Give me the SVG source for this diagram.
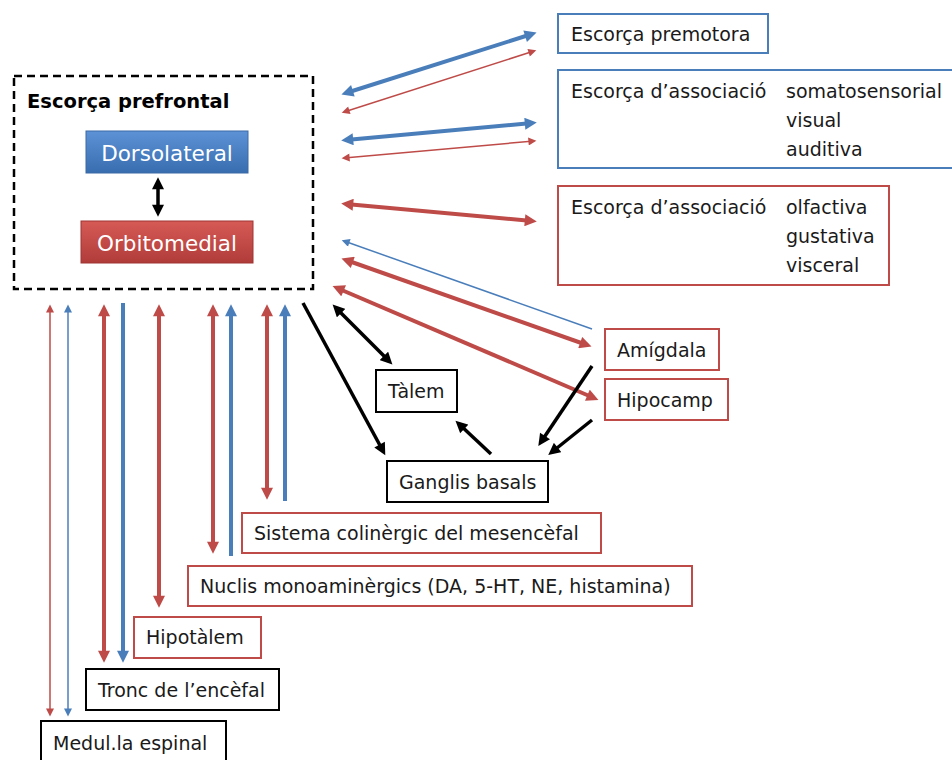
<svg xmlns="http://www.w3.org/2000/svg" width="952" height="760" viewBox="0 0 952 760">
<style>
text{font-family:"DejaVu Sans","Liberation Sans",Arial,sans-serif;font-size:19px;fill:#1a1a1a}
.bx{fill:#fff;stroke-width:2}
.b{stroke:#4a7ebb}.r{stroke:#be4b48}.k{stroke:#000}
.ln{fill:none;stroke-linecap:butt}
.tk{stroke-width:4}.tn{stroke-width:1.5}.bk{stroke-width:3.5}
</style>
<defs>
<linearGradient id="gb" x1="0" y1="0" x2="0" y2="1"><stop offset="0" stop-color="#5d93d6"/><stop offset="1" stop-color="#386db0"/></linearGradient>
<linearGradient id="gr" x1="0" y1="0" x2="0" y2="1"><stop offset="0" stop-color="#d65a56"/><stop offset="1" stop-color="#b03c39"/></linearGradient>
<marker id="rB" viewBox="0 0 10 10" refX="6" refY="5" markerUnits="userSpaceOnUse" markerWidth="14" markerHeight="12" orient="auto-start-reverse"><path d="M0,0L10,5L0,10z" fill="#be4b48"/></marker>
<marker id="bB" viewBox="0 0 10 10" refX="6" refY="5" markerUnits="userSpaceOnUse" markerWidth="14" markerHeight="12" orient="auto-start-reverse"><path d="M0,0L10,5L0,10z" fill="#4a7ebb"/></marker>
<marker id="kB" viewBox="0 0 10 10" refX="6" refY="5" markerUnits="userSpaceOnUse" markerWidth="13" markerHeight="12" orient="auto-start-reverse"><path d="M0,0L10,5L0,10z" fill="#000"/></marker>
<marker id="rS" viewBox="0 0 10 10" refX="7" refY="5" markerUnits="userSpaceOnUse" markerWidth="10" markerHeight="8" orient="auto-start-reverse"><path d="M0,0L10,5L0,10z" fill="#be4b48"/></marker>
<marker id="bS" viewBox="0 0 10 10" refX="7" refY="5" markerUnits="userSpaceOnUse" markerWidth="10" markerHeight="8" orient="auto-start-reverse"><path d="M0,0L10,5L0,10z" fill="#4a7ebb"/></marker>
</defs>

<g id="prefrontal">
<rect x="14" y="76" width="299" height="213" fill="none" stroke="#000" stroke-width="2.5" stroke-dasharray="8,5"/>
<text x="27" y="108" style="font-weight:bold;font-size:19.5px;fill:#000">Escorça prefrontal</text>
</g>
<g id="dorsolateral">
<rect x="86" y="131" width="162" height="42" fill="url(#gb)" stroke="#3a6aa5" stroke-width="1"/>
<text x="167" y="161" text-anchor="middle" style="fill:#fff;font-size:21.5px">Dorsolateral</text>
</g>
<g id="orbitomedial">
<rect x="81" y="221" width="172" height="42" fill="url(#gr)" stroke="#9e3533" stroke-width="1"/>
<text x="167" y="251" text-anchor="middle" style="fill:#fff;font-size:21.5px">Orbitomedial</text>
</g>

<g id="premotora"><rect class="bx b" x="558" y="14" width="210" height="39"/><text x="571" y="41">Escorça premotora</text></g>
<g id="assoc-sens"><rect class="bx b" x="558" y="70" width="400" height="98"/>
<text x="571" y="98">Escorça d’associació</text><text x="786" y="98">somatosensorial</text><text x="786" y="127">visual</text><text x="786" y="156">auditiva</text></g>
<g id="assoc-visc"><rect class="bx r" x="558" y="186" width="331" height="99"/>
<text x="571" y="214">Escorça d’associació</text><text x="786" y="214">olfactiva</text><text x="786" y="243">gustativa</text><text x="786" y="272">visceral</text></g>
<g id="amigdala"><rect class="bx r" x="605" y="329" width="114" height="41"/><text x="617" y="357">Amígdala</text></g>
<g id="hipocamp"><rect class="bx r" x="605" y="379" width="123" height="41"/><text x="617" y="407">Hipocamp</text></g>
<g id="talem"><rect class="bx k" x="376" y="370" width="81" height="42"/><text x="388" y="398">Tàlem</text></g>
<g id="ganglis"><rect class="bx k" x="387" y="461" width="161" height="41"/><text x="399" y="489">Ganglis basals</text></g>
<g id="colinergic"><rect class="bx r" x="242" y="513" width="359" height="40"/><text x="254" y="540">Sistema colinèrgic del mesencèfal</text></g>
<g id="monoamin"><rect class="bx r" x="188" y="566" width="504" height="40"/><text x="200" y="593">Nuclis monoaminèrgics (DA, 5-HT, NE, histamina)</text></g>
<g id="hipotalem"><rect class="bx r" x="134" y="617" width="127" height="41"/><text x="146" y="644">Hipotàlem</text></g>
<g id="tronc"><rect class="bx k" x="86" y="669" width="193" height="41"/><text x="98" y="697">Tronc de l’encèfal</text></g>
<g id="medulla"><rect class="bx k" x="41" y="721" width="185" height="45"/><text x="53" y="750">Medul.la espinal</text></g>

<g id="connectors">
<line class="ln k bk" x1="158" y1="182" x2="158" y2="212" marker-start="url(#kB)" marker-end="url(#kB)"/>
<line class="ln b tk" x1="346" y1="93" x2="532" y2="34" marker-start="url(#bB)" marker-end="url(#bB)"/>
<line class="ln r tn" x1="344" y1="112" x2="534" y2="51" marker-start="url(#rS)" marker-end="url(#rS)"/>
<line class="ln b tk" x1="346" y1="140" x2="532" y2="123" marker-start="url(#bB)" marker-end="url(#bB)"/>
<line class="ln r tn" x1="344" y1="158" x2="534" y2="141" marker-start="url(#rS)" marker-end="url(#rS)"/>
<line class="ln r tk" x1="346" y1="204" x2="532" y2="221" marker-start="url(#rB)" marker-end="url(#rB)"/>
<line class="ln b tn" x1="592" y1="329" x2="344" y2="241" marker-end="url(#bS)"/>
<line class="ln r tk" x1="346" y1="260" x2="587" y2="345" marker-start="url(#rB)" marker-end="url(#rB)"/>
<line class="ln r tk" x1="337" y1="288" x2="594" y2="398" marker-start="url(#rB)" marker-end="url(#rB)"/>
<line class="ln k bk" x1="303" y1="303" x2="383" y2="451" marker-end="url(#kB)"/>
<line class="ln k bk" x1="336" y1="308" x2="389" y2="361" marker-start="url(#kB)" marker-end="url(#kB)"/>
<line class="ln k bk" x1="491" y1="454" x2="459" y2="424" marker-end="url(#kB)"/>
<line class="ln k bk" x1="592" y1="366" x2="541" y2="442" marker-end="url(#kB)"/>
<line class="ln k bk" x1="592" y1="420" x2="552" y2="452" marker-end="url(#kB)"/>
<line class="ln r tn" x1="50" y1="307" x2="50" y2="714" marker-start="url(#rS)" marker-end="url(#rS)"/>
<line class="ln b tn" x1="68" y1="307" x2="68" y2="714" marker-start="url(#bS)" marker-end="url(#bS)"/>
<line class="ln r tk" x1="104" y1="309" x2="104" y2="658" marker-start="url(#rB)" marker-end="url(#rB)"/>
<line class="ln b tk" x1="123" y1="303" x2="123" y2="658" marker-end="url(#bB)"/>
<line class="ln r tk" x1="159" y1="309" x2="159" y2="603" marker-start="url(#rB)" marker-end="url(#rB)"/>
<line class="ln r tk" x1="213" y1="309" x2="213" y2="549" marker-start="url(#rB)" marker-end="url(#rB)"/>
<line class="ln b tk" x1="231" y1="556" x2="231" y2="309" marker-end="url(#bB)"/>
<line class="ln r tk" x1="267" y1="309" x2="267" y2="495" marker-start="url(#rB)" marker-end="url(#rB)"/>
<line class="ln b tk" x1="285" y1="501" x2="285" y2="309" marker-end="url(#bB)"/>
</g>
</svg>
